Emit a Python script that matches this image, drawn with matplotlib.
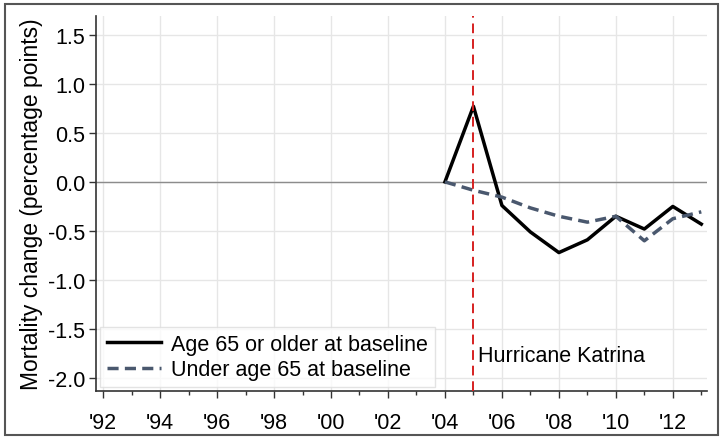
import matplotlib.pyplot as plt
from matplotlib.ticker import MultipleLocator, FuncFormatter
from matplotlib.patches import Rectangle

plt.rcParams['font.family'] = ['Liberation Sans', 'DejaVu Sans']

# Mortality change relative to 2004, percentage points
years = [2004, 2005, 2006, 2007, 2008, 2009, 2010, 2011, 2012, 2013]
age65_plus = [0.0, 0.77, -0.24, -0.51, -0.72, -0.59, -0.35, -0.48, -0.25, -0.43]
under65 = [0.0, -0.085, -0.155, -0.265, -0.35, -0.41, -0.35, -0.60, -0.375, -0.305]
katrina_year = 2005

fs = 15.5

fig = plt.figure(figsize=(7.26, 4.39), dpi=100)
ax = fig.add_axes([96 / 726, 1 - 392 / 439, (707 - 96) / 726, (392 - 17) / 439])

# outer frame round the whole figure
fig.patches.append(Rectangle((5 / 726, 3 / 439), 713 / 726, 431 / 439,
                             transform=fig.transFigure, fill=False,
                             edgecolor='#555555', linewidth=1.5))

ax.grid(True, color='#e6e6e6', linewidth=1)
ax.set_axisbelow(True)
ax.axhline(0, color='#8c8c8c', linewidth=1, zorder=1)

ax.plot(years, age65_plus, color='black', linewidth=2.5,
        label='Age 65 or older at baseline', zorder=3)
ax.plot(years, under65, color='#4a586e', linewidth=2.5, linestyle=(0, (3.2, 1.8)),
        label='Under age 65 at baseline', zorder=3)

ax.axvline(katrina_year, color='#d62020', linewidth=1.4, linestyle=(0, (5, 3)), zorder=4)
ax.text(katrina_year + 0.15, -1.77, 'Hurricane Katrina', fontsize=fs, va='center', ha='left')

ax.set_xlim(1991.75, 2013.2)
ax.set_ylim(-2.13, 1.69)
ax.xaxis.set_major_locator(MultipleLocator(2))
ax.xaxis.set_minor_locator(MultipleLocator(1))
ax.xaxis.set_major_formatter(FuncFormatter(lambda v, p: "'%02d" % (int(round(v)) % 100)))
ax.yaxis.set_major_locator(MultipleLocator(0.5))
ax.yaxis.set_major_formatter(FuncFormatter(lambda v, p: '%.1f' % v))

ax.tick_params(axis='both', labelsize=fs, length=5, width=1, color='#333333')
ax.tick_params(axis='x', which='minor', length=3, width=1, color='#333333')
ax.tick_params(axis='x', pad=10)
ax.tick_params(axis='y', pad=3)

for side in ['top', 'right']:
    ax.spines[side].set_visible(False)
for side in ['left', 'bottom']:
    ax.spines[side].set_color('#333333')
    ax.spines[side].set_linewidth(1.2)

ax.set_ylabel('Mortality change (percentage points)', fontsize=16.5, labelpad=3)

leg = ax.legend(loc='lower left', fontsize=fs, frameon=True, fancybox=False,
                handlelength=2.5, handletextpad=0.5, borderaxespad=0.2,
                labelspacing=0.2, borderpad=0.3)
leg.get_frame().set_edgecolor('#dddddd')
leg.get_frame().set_linewidth(1)

fig.savefig('out.png', dpi=100)
